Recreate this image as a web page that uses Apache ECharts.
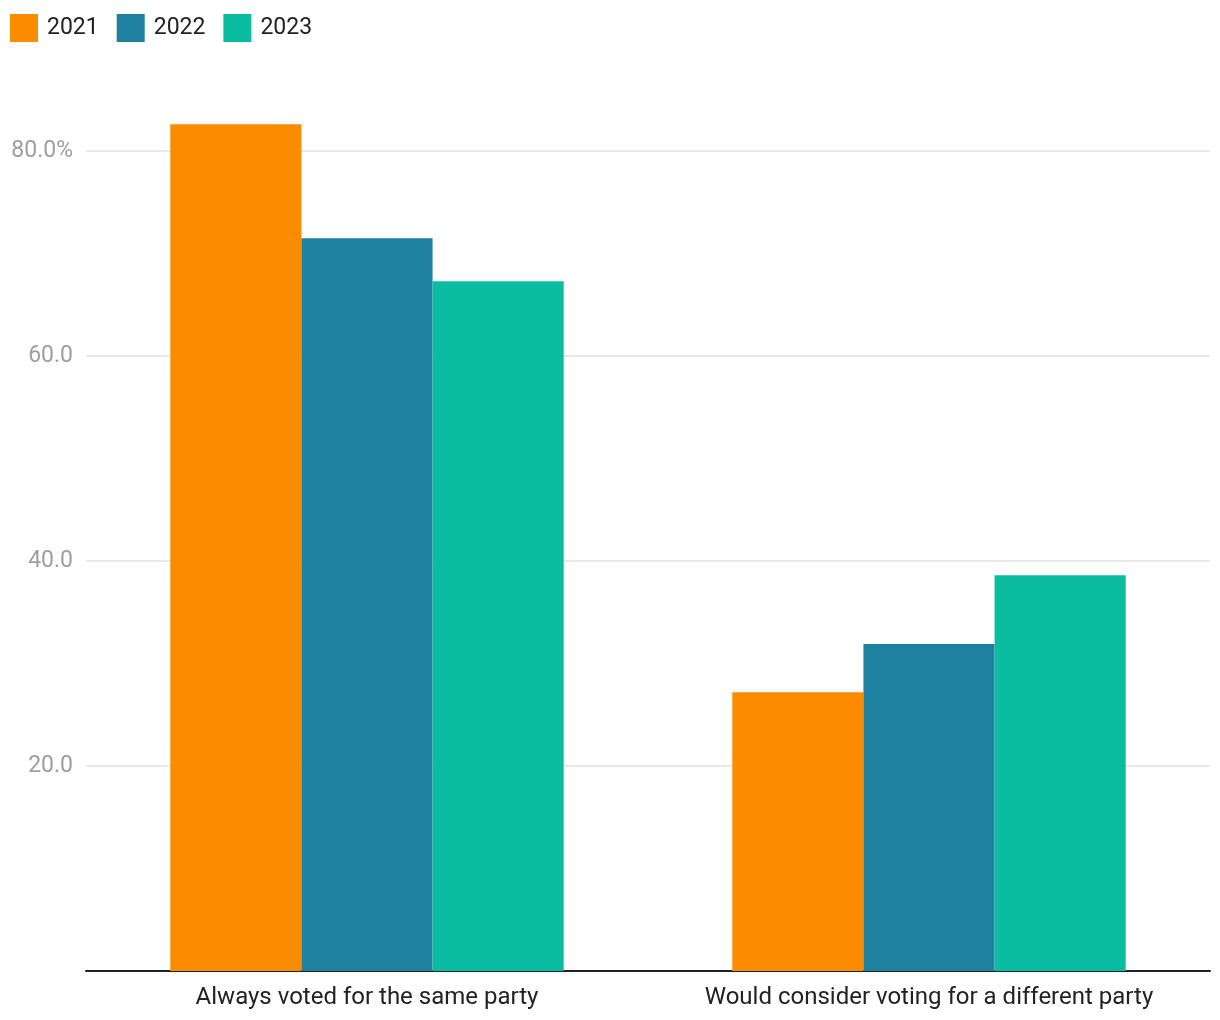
<!DOCTYPE html>
<html>
<head>
<meta charset="utf-8">
<script src="https://cdn.jsdelivr.net/npm/echarts@6/dist/echarts.min.js"></script>
<style>html,body{margin:0;padding:0;background:#fff;}#c{width:1220px;height:1020px;}</style>
</head>
<body>
<div id="c"></div>
<script>
const categories = ["Always voted for the same party", "Would consider voting for a different party"];
const seriesNames = ["2021", "2022", "2023"];
const values2021 = [82.6, 27.2];
const values2022 = [71.5, 31.9];
const values2023 = [67.3, 38.6];
const colors = ["#FB8C00", "#1E81A0", "#0ABDA0"];

const chart = echarts.init(document.getElementById('c'));
const dataSets = [values2021, values2022, values2023];
chart.setOption({
  animation: false,
  textStyle: { fontFamily: 'Roboto' },
  legend: {
    left: 5, top: 9,
    itemWidth: 28, itemHeight: 28, itemGap: 18,
    icon: 'rect',
    textStyle: { fontSize: 23, color: '#222', fontFamily: 'Roboto', padding: [0,0,0,4] },
    data: seriesNames
  },
  grid: { left: 86, right: 10, top: 151, bottom: 49, containLabel: false },
  xAxis: {
    type: 'category',
    data: categories,
    axisLine: { lineStyle: { color: '#222', width: 2 } },
    axisTick: { show: false },
    axisLabel: { fontSize: 24, color: '#222', margin: 15, interval: 0, hideOverlap: false, fontFamily: 'Roboto' }
  },
  yAxis: {
    type: 'value',
    min: 0, max: 80, interval: 20,
    axisLine: { show: false },
    axisTick: { show: false },
    splitLine: { lineStyle: { color: '#e0e0e0', width: 1.5 } },
    axisLabel: {
      fontSize: 23, color: '#9e9e9e', margin: 13, fontFamily: 'Roboto',
      formatter: v => v === 0 ? '' : (v === 80 ? v.toFixed(1) + '%' : v.toFixed(1))
    }
  },
  series: seriesNames.map((n, i) => ({
    name: n,
    type: 'bar',
    data: dataSets[i],
    itemStyle: { color: colors[i] },
    barGap: '0%',
    barCategoryGap: '30%',
    clip: false
  }))
});
</script>
</body>
</html>
